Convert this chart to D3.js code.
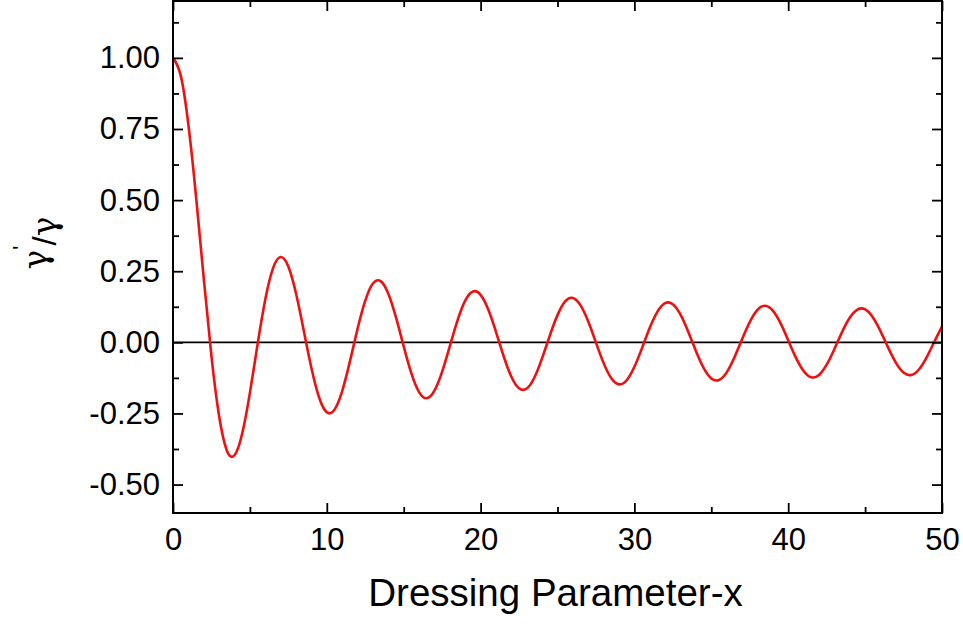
<!DOCTYPE html>
<html><head><meta charset="utf-8">
<script src="https://cdn.jsdelivr.net/npm/d3@7"></script>
<style>html,body{margin:0;padding:0;background:#fff}svg{display:block}text{font-family:"Liberation Sans",Arial,sans-serif;fill:#000}</style>
</head><body><svg id="c" width="963" height="624"></svg>
<script>
const xValues = d3.range(0, 50.001, 0.5);
const yValues = [
 1.0000, 0.9385, 0.7652, 0.5118, 0.2239, -0.0484, -0.2601, -0.3801, -0.3971, -0.3205,
 -0.1776, -0.0068, 0.1506, 0.2601, 0.3001, 0.2663, 0.1717, 0.0419, -0.0903, -0.1939,
 -0.2459, -0.2366, -0.1712, -0.0677, 0.0477, 0.1469, 0.2069, 0.2150, 0.1711, 0.0875,
 -0.0142, -0.1092, -0.1749, -0.1965, -0.1699, -0.1031, -0.0134, 0.0773, 0.1467, 0.1789,
 0.1670, 0.1151, 0.0366, -0.0489, -0.1208, -0.1616, -0.1625, -0.1238, -0.0555, 0.0238,
 0.0957, 0.1441, 0.1560, 0.1299, 0.0729, -0.0010, -0.0731, -0.1264, -0.1478, -0.1333,
 -0.0861, -0.0194, 0.0512, 0.1082, 0.1381, 0.1339, 0.0973, 0.0375, -0.0304, -0.0901,
 -0.1269, -0.1325, -0.1055, -0.0533, 0.0109, 0.0713, 0.1143, 0.1286, 0.1114, 0.0674,
 0.0074, -0.0537, -0.1005, -0.1228, -0.1148, -0.0786, -0.0241, 0.0359, 0.0862, 0.1153,
 0.1158, 0.0882, 0.0393, -0.0185, -0.0712, -0.1061, -0.1146, -0.0954, -0.0528, 0.0020,
 0.0558
];
const xTicks = [0, 10, 20, 30, 40, 50];
const xMinor = [5, 15, 25, 35, 45];
const yTicks = [-0.50, -0.25, 0.00, 0.25, 0.50, 0.75, 1.00];
const yMinor = [-0.375, -0.125, 0.125, 0.375, 0.625, 0.875, 1.125];
const xLabel = "Dressing Parameter-x";

const L = 173, R = 942, T = 1, B = 513;
const svg = d3.select("#c");
const x = d3.scaleLinear().domain([0, 50]).range([L, R]);
const y = d3.scaleLinear().domain([-0.6, 1.2]).range([B, T]);

svg.append("line").attr("x1", L).attr("x2", R).attr("y1", y(0)).attr("y2", y(0))
  .attr("stroke", "#000").attr("stroke-width", 1.6);

const data = xValues.map((v, i) => [v, yValues[i]]);
svg.append("path").datum(data)
  .attr("fill", "none").attr("stroke", "#ee1111").attr("stroke-width", 2.6)
  .attr("d", d3.line().x(d => x(d[0])).y(d => y(d[1])).curve(d3.curveNatural));

function styleAxis(g) {
  g.select(".domain").remove();
  g.selectAll("line").attr("stroke", "#000").attr("stroke-width", 1.8);
}
const fs = 31;
const fmtY = d => d3.format(".2f")(d).replace("\u2212", "-");
svg.append("g").attr("transform", `translate(0,${B})`)
  .call(d3.axisBottom(x).tickValues(xTicks).tickSize(-10).tickPadding(15).tickFormat(d3.format("d")))
  .call(styleAxis).call(g => g.selectAll("text").attr("font-size", fs).attr("dy", "0.71em"));
svg.append("g").attr("transform", `translate(0,${B})`)
  .call(d3.axisBottom(x).tickValues(xMinor).tickSize(-6).tickFormat(""))
  .call(styleAxis);
svg.append("g").attr("transform", `translate(0,${T})`)
  .call(d3.axisTop(x).tickValues(xTicks).tickSize(-10).tickFormat(""))
  .call(styleAxis);
svg.append("g").attr("transform", `translate(0,${T})`)
  .call(d3.axisTop(x).tickValues(xMinor).tickSize(-6).tickFormat(""))
  .call(styleAxis);
svg.append("g").attr("transform", `translate(${L},0)`)
  .call(d3.axisLeft(y).tickValues(yTicks).tickSize(-10).tickPadding(13).tickFormat(fmtY))
  .call(styleAxis).call(g => g.selectAll("text").attr("font-size", fs));
svg.append("g").attr("transform", `translate(${L},0)`)
  .call(d3.axisLeft(y).tickValues(yMinor).tickSize(-6).tickFormat(""))
  .call(styleAxis);
svg.append("g").attr("transform", `translate(${R},0)`)
  .call(d3.axisRight(y).tickValues(yTicks).tickSize(-10).tickFormat(""))
  .call(styleAxis);
svg.append("g").attr("transform", `translate(${R},0)`)
  .call(d3.axisRight(y).tickValues(yMinor).tickSize(-6).tickFormat(""))
  .call(styleAxis);

svg.append("rect").attr("x", L).attr("y", T).attr("width", R - L).attr("height", B - T)
  .attr("fill", "none").attr("stroke", "#000").attr("stroke-width", 2);

svg.append("text").attr("x", (L + R) / 2 - 2).attr("y", 606).attr("text-anchor", "middle")
  .attr("font-size", 38.5).text(xLabel);
const yl = svg.append("text").attr("transform", "translate(47,243) rotate(-90)")
  .attr("text-anchor", "middle").attr("font-size", 33)
  .style("font-family", "'DejaVu Serif', serif");
yl.append("tspan").text("γ");
yl.append("tspan").attr("dy", "-0.85em").attr("font-size", 22).style("font-family", "'Liberation Sans', sans-serif").text("'");
yl.append("tspan").attr("dy", "0.85em").style("font-family", "'Liberation Sans', sans-serif").text("/");
yl.append("tspan").text("γ");
</script></body></html>
